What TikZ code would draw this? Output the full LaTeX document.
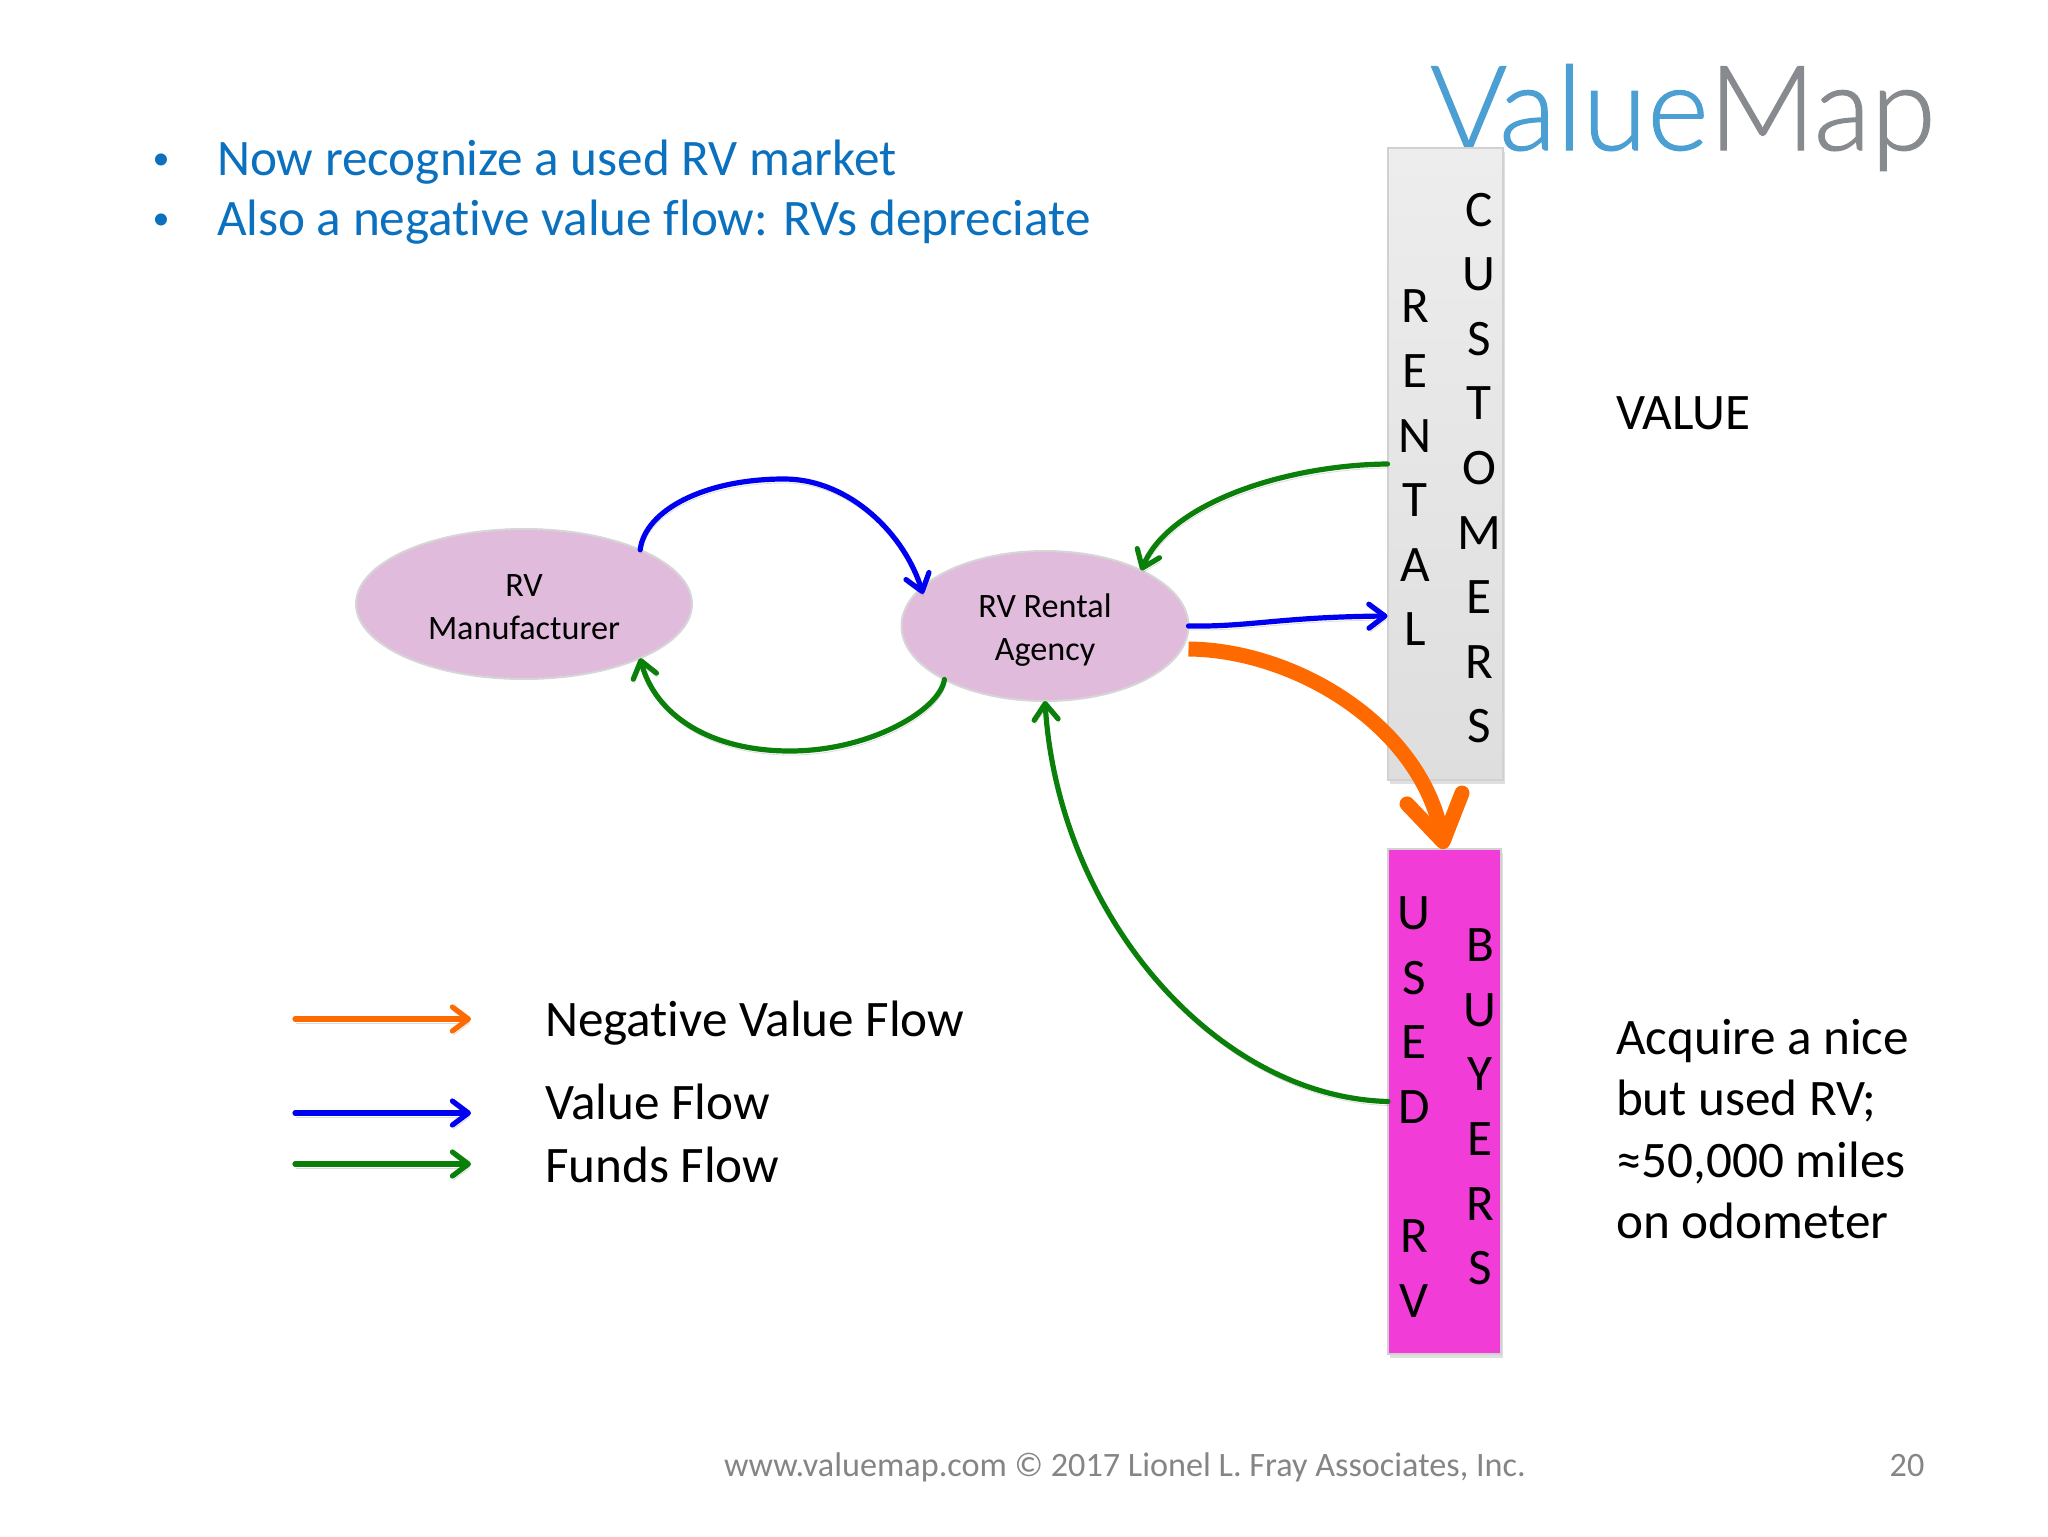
\documentclass[tikz,border=0pt]{standalone}
\usepackage{fontspec}
\setmainfont[Ligatures=CommonOff]{Carlito}
\newfontfamily\logofont[UprightFont=* Light, UprightFeatures={FakeBold=1}]{Lato}
\usetikzlibrary{positioning, shapes.geometric, arrows.meta, shadows}
\definecolor{Slideblue}{HTML}{0B70BE}
\definecolor{Logoblue}{HTML}{4C9FD3}
\definecolor{Logogrey}{HTML}{878B8F}
\definecolor{Blobfill}{HTML}{E1BBDC}
\definecolor{Usedfill}{HTML}{F23CD8}
\definecolor{Negorange}{HTML}{FF6A00}
\definecolor{Valueblue}{HTML}{0000F0}
\definecolor{Fundsgreen}{HTML}{0A7F0A}
\tikzset{
	every node/.append style={
		inner sep=0mm,
		outer sep=0mm,
	},
	blob/.append style={
		ellipse,
		draw=black!16,
		line width=1pt,
		fill=Blobfill,
	},
	blobtext/.append style={
		align=center,
		font={\fontsize{17.1}{21.5}\selectfont},
	},
	stack/.append style={
		draw=black!18,
		line width=1pt,
		drop shadow={opacity=0.25, shadow xshift=1pt, shadow yshift=-2pt},
	},
	letters/.append style={
		align=center,
		font={\fontsize{25.6}{32.3}\selectfont},
	},
	body/.append style={
		align=left,
		font={\fontsize{25.6}{30.7}\selectfont},
	},
	flow/.append style={
		line width=2.6pt,
		line cap=round,
		-{Straight Barb[length=8pt,width=12pt,round]},
		preaction={draw=black, draw opacity=0.14, transform canvas={xshift=0.5pt,yshift=-2pt}},
	},
	footer/.append style={
		text=black!48,
		font={\fontsize{17.1}{20}\selectfont},
	},
}

\begin{document}
\begin{tikzpicture}[x=0.5pt, y=-0.5pt]
\useasboundingbox (0,0) rectangle (2048,1536);

\node(logo)[anchor=base west, font={\logofont\fontsize{59}{62}\selectfont}] at (1430,150) {\textcolor{Logoblue}{Value}\textcolor{Logogrey}{Map}};

\foreach \ii/\yy/\txt in {1/162/Now recognize a used RV market, 2/222/Also a negative value flow: RVs depreciate} {
	\node(dot\ii)[text=Slideblue, font={\fontsize{17}{20}\selectfont}] at (161,\yy) {•};
	\node(bullet\ii)[anchor=west, text=Slideblue, font={\fontsize{25.6}{30}\selectfont}] at (217,\yy) {\txt};
};

\node(customers)[stack, minimum width=57.5pt, minimum height=316pt, top color=black!7, bottom color=black!13] at (1445,464) {};
\node(buyers)[stack, minimum width=56.5pt, minimum height=252.5pt, fill=Usedfill] at (1444.5,1101.5) {};

\node(rental)[letters] at (1415,468) {R\\E\\N\\T\\A\\L};
\node(cust)[letters] at (1479,468) {C\\U\\S\\T\\O\\M\\E\\R\\S};
\node(usedrv)[letters] at (1414,1107) {U\\S\\E\\D\\[32.3pt]R\\V};
\node(buy)[letters] at (1480,1107) {B\\U\\Y\\E\\R\\S};

\node(maker)[blob, minimum width=168pt, minimum height=75pt] at (524,604) {};
\node(agency)[blob, minimum width=143.5pt, minimum height=75pt] at (1045,626) {};
\node(makertext)[blobtext] at ([yshift=-1.5pt]maker.center) {RV\\Manufacturer};
\node(agencytext)[blobtext] at ([yshift=-2pt]agency.center) {RV Rental\\Agency};

\node(val)[body, anchor=west] at (1616,413) {VALUE};
\node(acq)[body, anchor=west] at (1616,1129) {Acquire a nice\\but used RV;\\≈50,000 miles\\on odometer};

\coordinate(top) at (784,479);
\coordinate(bot) at (790,751);
\coordinate(rentin) at (customers.west |- 0,616);

\draw[flow, Valueblue, shorten >=-3pt] (maker.25) .. controls (645,510) and (705,479) .. (top) .. controls (850,479) and (905,535) .. (agency.163);
\draw[flow, Fundsgreen] (agency.208) .. controls (940,710) and (870,751) .. (bot) .. controls (710,751) and (655,715) .. (maker.-25);
\draw[flow, Fundsgreen] (customers.west) .. controls (1286,465) and (1169,503) .. (agency.30);
\draw[flow, Valueblue] (agency.east) .. controls (1250,627) and (1280,617) .. (rentin);
\draw[flow, Fundsgreen] (buyers.west) .. controls (1215,1097) and (1058,914) .. (agency.south);
\draw[Negorange, line width=7.5pt, -{Straight Barb[length=22pt,width=28pt,round]}] ([yshift=-11.5pt]agency.east) .. controls (1295,650) and (1420,725) .. (buyers.north);

\foreach \nm/\col/\ay/\ty/\txt in {neg/Negorange/1019/1023/Negative Value Flow, val/Valueblue/1113/1102/Value Flow, fund/Fundsgreen/1164/1165/Funds Flow} {
	\coordinate(from\nm) at (295,\ay);
	\coordinate(to\nm) at (471,\ay);
	\draw[flow, \col] (from\nm) -- (to\nm);
	\node(lbl\nm)[body, anchor=west] at (545,\ty) {\txt};
};

\node(credit)[footer, anchor=center] at (1125,1467) {www.valuemap.com © 2017 Lionel L. Fray Associates, Inc.};
\node(page)[footer, anchor=center] at (1907,1465) {20};

\end{tikzpicture}
\end{document}
